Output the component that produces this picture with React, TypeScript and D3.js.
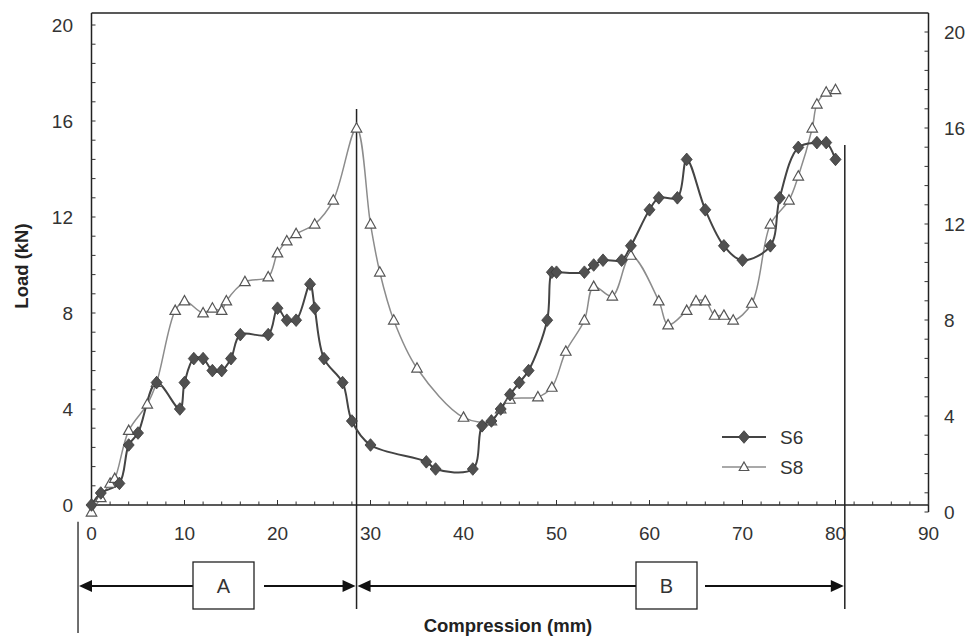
import React from "react";
import * as d3 from "d3";

const xTickLabels = [0, 10, 20, 30, 40, 50, 60, 70, 80, 90];
const yTickLabels = [0, 4, 8, 12, 16, 20];

const s6X = [0, 1, 3, 4, 5, 7, 9.5, 10, 11, 12, 13, 14, 15, 16, 19, 20, 21, 22, 23.5, 24, 25, 27, 28, 30, 36, 37, 41, 42, 43, 44, 45, 46, 47, 49, 49.5, 50, 53, 54, 55, 57, 58, 60, 61, 63, 64, 66, 68, 70, 73, 74, 76, 78, 79, 80];
const s6Y = [0, 0.5, 0.9, 2.5, 3, 5.1, 4, 5.1, 6.1, 6.1, 5.6, 5.6, 6.1, 7.1, 7.1, 8.2, 7.7, 7.7, 9.2, 8.2, 6.1, 5.1, 3.5, 2.5, 1.8, 1.5, 1.5, 3.3, 3.5, 4.0, 4.6, 5.1, 5.6, 7.7, 9.7, 9.7, 9.7, 10.0, 10.2, 10.2, 10.8, 12.3, 12.8, 12.8, 14.4, 12.3, 10.8, 10.2, 10.8, 12.8, 14.9, 15.1, 15.1, 14.4];

const s8X = [0, 1, 2, 2.5, 4, 6, 7, 9, 10, 12, 13, 14, 14.5, 16.5, 19, 20, 21, 22, 24, 26, 28.5, 30, 31, 32.5, 35, 40, 43, 44, 45, 48, 49.5, 51, 53, 54, 56, 58, 61, 62, 64, 65, 66, 67, 68, 69, 71, 73, 75, 76, 77.5, 78, 79, 80];
const s8Y = [-0.3, 0.3, 0.9, 1.1, 3.1, 4.2, 5.1, 8.1, 8.5, 8.0, 8.2, 8.1, 8.5, 9.3, 9.5, 10.5, 11, 11.3, 11.7, 12.7, 15.7, 11.7, 9.7, 7.7, 5.7, 3.65, 3.5, 4.0, 4.4, 4.5, 4.9, 6.4, 7.7, 9.1, 8.7, 10.4, 8.5, 7.5, 8.1, 8.5, 8.5, 7.9, 7.9, 7.7, 8.4, 11.7, 12.7, 13.7, 15.7, 16.7, 17.2, 17.3];

const seriesNames = ["S6", "S8"];
const zoneLabels = ["A", "B"];
// zone boundaries (mm) and the top of each boundary marker (kN)
const zoneBoundsX = [-1.45, 28.5, 81];
const zoneBoundsTop = [-0.7, 16.5, 15];

const W = 976;
const H = 638;
const FONT = "'Liberation Sans', Arial, Helvetica, sans-serif";

export default function App() {
  const x = d3.scaleLinear().domain([0, 90]).range([91.5, 928.5]);
  const y = d3.scaleLinear().domain([0, 20.5]).range([505, 13]);
  const yR = d3.scaleLinear().domain([0, 20.5]).range([512, 20]);

  const s6 = s6X.map((v, i) => [v, s6Y[i]] as [number, number]);
  const s8 = s8X.map((v, i) => [v, s8Y[i]] as [number, number]);

  const line = d3
    .line<[number, number]>()
    .x((d) => x(d[0]))
    .y((d) => y(d[1]))
    .curve(d3.curveCatmullRom.alpha(0.5));

  const xMinor = d3.range(0, 90.01, 2);
  const yMinor = d3.range(0, 20.5, 0.8);

  const left = x.range()[0];
  const right = x.range()[1];
  const top = y.range()[1];
  const bottom = y(0);

  const diamond = (cx: number, cy: number, r: number) =>
    `M${cx},${cy - r * 1.15}L${cx + r},${cy}L${cx},${cy + r * 1.15}L${cx - r},${cy}Z`;
  const tri = (cx: number, cy: number, r: number) =>
    `M${cx},${cy - r}L${cx + r * 0.95},${cy + r * 0.7}L${cx - r * 0.95},${cy + r * 0.7}Z`;

  const arrowY = 586;
  const boxTop = 562;
  const boxH = 47;
  const boxes = [
    { x0: 193, x1: 254, gapR: 264 },
    { x0: 636, x1: 697, gapR: 705 },
  ];
  const bx = zoneBoundsX.map((v) => x(v));

  const arrowHead = (tipX: number, dir: number) =>
    `M${tipX},${arrowY}L${tipX - dir * 13},${arrowY - 6}L${tipX - dir * 13},${arrowY + 6}Z`;

  return (
    <svg
      width={W}
      height={H}
      style={{ position: "absolute", left: 0, top: 0, background: "#fff" }}
      fontFamily={FONT}
    >
      <rect x={0} y={0} width={W} height={H} fill="#fff" />

      {/* frame */}
      <line x1={left} x2={right} y1={top} y2={top} stroke="#222" strokeWidth={1.3} />
      <line x1={left} x2={left} y1={top} y2={bottom} stroke="#222" strokeWidth={1.5} />
      <line x1={right} x2={right} y1={top} y2={yR(0)} stroke="#222" strokeWidth={1.5} />
      <line x1={left} x2={right} y1={bottom} y2={bottom} stroke="#222" strokeWidth={1.5} />

      {/* x ticks */}
      {xMinor.map((t) => (
        <line
          key={"xt" + t}
          x1={x(t)}
          x2={x(t)}
          y1={bottom}
          y2={bottom - (t % 10 === 0 ? 5 : 3.5)}
          stroke="#333"
          strokeWidth={1}
        />
      ))}
      {/* left y ticks */}
      {yMinor.map((t) => (
        <line key={"yl" + t} x1={left} x2={left + 4} y1={y(t)} y2={y(t)} stroke="#333" strokeWidth={1} />
      ))}
      {/* right y ticks */}
      {yMinor.map((t) => (
        <line key={"yr" + t} x1={right} x2={right - 4} y1={yR(t)} y2={yR(t)} stroke="#333" strokeWidth={1} />
      ))}

      {/* x tick labels */}
      {xTickLabels.map((t) => (
        <text key={"xl" + t} x={x(t)} y={540} textAnchor="middle" fontSize={19} fill="#333">
          {t}
        </text>
      ))}
      {/* left tick labels */}
      {yTickLabels.map((t) => (
        <text key={"yll" + t} x={73} y={y(t)} dy="0.35em" textAnchor="end" fontSize={19} fill="#333">
          {t}
        </text>
      ))}
      {/* right tick labels */}
      {yTickLabels.map((t) => (
        <text key={"yrl" + t} x={944} y={yR(t)} dy="0.35em" textAnchor="start" fontSize={19} fill="#333">
          {t}
        </text>
      ))}

      {/* axis titles */}
      <text
        transform={`translate(28,${266}) rotate(-90)`}
        textAnchor="middle"
        fontSize={18.5}
        fontWeight="bold"
        fill="#222"
      >
        Load (kN)
      </text>
      <text x={508} y={632} textAnchor="middle" fontSize={18.5} fontWeight="bold" fill="#222">
        Compression (mm)
      </text>

      {/* zone boundary lines */}
      <line x1={bx[0]} x2={bx[0]} y1={y(zoneBoundsTop[0])} y2={633} stroke="#222" strokeWidth={1.3} />
      <line x1={bx[1]} x2={bx[1]} y1={y(zoneBoundsTop[1])} y2={609} stroke="#222" strokeWidth={1.5} />
      <line x1={bx[2]} x2={bx[2]} y1={y(zoneBoundsTop[2])} y2={609} stroke="#222" strokeWidth={1.5} />

      {/* series lines */}
      <path d={line(s8) || ""} fill="none" stroke="#8c8c8c" strokeWidth={1.5} />
      <path d={line(s6) || ""} fill="none" stroke="#444" strokeWidth={2} />

      {/* S8 markers */}
      {s8.map((d, i) => (
        <path key={"m8" + i} d={tri(x(d[0]), y(d[1]), 5.5)} fill="#fff" stroke="#555" strokeWidth={1.2} />
      ))}
      {/* S6 markers */}
      {s6.map((d, i) => (
        <path key={"m6" + i} d={diamond(x(d[0]), y(d[1]), 5.5)} fill="#505050" stroke="#3a3a3a" strokeWidth={0.8} />
      ))}

      {/* legend */}
      <line x1={722} x2={766} y1={437} y2={437} stroke="#444" strokeWidth={2} />
      <path d={diamond(744, 437, 5.5)} fill="#505050" stroke="#3a3a3a" strokeWidth={0.8} />
      <text x={780} y={437} dy="0.35em" fontSize={19} fill="#333">
        {seriesNames[0]}
      </text>
      <line x1={722} x2={766} y1={467} y2={467} stroke="#8c8c8c" strokeWidth={1.5} />
      <path d={tri(744, 467, 5)} fill="#fff" stroke="#555" strokeWidth={1.2} />
      <text x={780} y={467} dy="0.35em" fontSize={19} fill="#333">
        {seriesNames[1]}
      </text>

      {/* zone arrows */}
      <line x1={bx[0] + 10} x2={boxes[0].x0} y1={arrowY} y2={arrowY} stroke="#111" strokeWidth={2} />
      <line x1={boxes[0].gapR} x2={bx[1] - 10} y1={arrowY} y2={arrowY} stroke="#111" strokeWidth={2} />
      <path d={arrowHead(bx[0] + 1, -1)} fill="#111" />
      <path d={arrowHead(bx[1] - 1, 1)} fill="#111" />
      <line x1={bx[1] + 10} x2={boxes[1].x0} y1={arrowY} y2={arrowY} stroke="#111" strokeWidth={2} />
      <line x1={boxes[1].gapR} x2={bx[2] - 10} y1={arrowY} y2={arrowY} stroke="#111" strokeWidth={2} />
      <path d={arrowHead(bx[1] + 1, -1)} fill="#111" />
      <path d={arrowHead(bx[2] - 1, 1)} fill="#111" />
      {boxes.map((b, i) => (
        <g key={"box" + i}>
          <rect x={b.x0} y={boxTop} width={b.x1 - b.x0} height={boxH} fill="#fff" stroke="#222" strokeWidth={1.3} />
          <text x={(b.x0 + b.x1) / 2} y={boxTop + boxH / 2} dy="0.35em" textAnchor="middle" fontSize={20} fill="#333">
            {zoneLabels[i]}
          </text>
        </g>
      ))}
    </svg>
  );
}
